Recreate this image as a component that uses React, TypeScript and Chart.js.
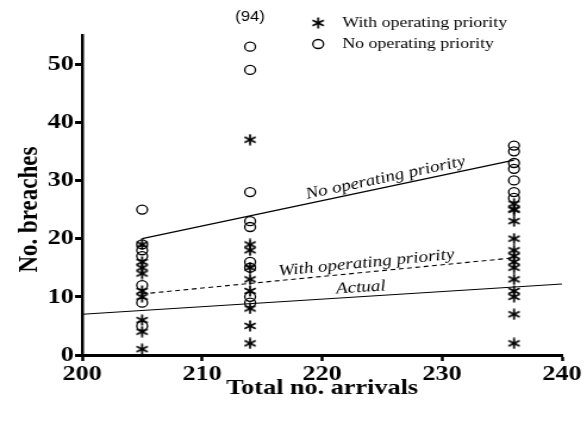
import React, { useEffect, useRef } from "react";
import { Chart, registerables } from "chart.js";

Chart.register(...registerables);

// ---- data ----
const arrivals = [205, 214, 236];
const withPriority205 = [19, 16, 15, 14, 11, 10, 6, 4, 1];
const withPriority214 = [37, 19, 18, 15, 13, 11, 8, 5, 2];
const withPriority236 = [26, 25, 25, 23, 20, 18, 17, 16, 15, 13, 11, 10, 7, 2];
const noPriority205 = [25, 19, 18, 17, 12, 9, 5];
const noPriority214 = [53, 49, 28, 23, 22, 16, 15, 10, 9];
const noPriority236 = [36, 35, 33, 32, 30, 28, 27];

const noLineX = [205, 236];
const noLineY = [20, 33.5];
const withLineX = [205, 236];
const withLineY = [10.5, 16.7];
const actualLineX = [200, 240];
const actualLineY = [7, 12.2];

const xTicks = [200, 210, 220, 230, 240];
const yTicks = [0, 10, 20, 30, 40, 50];
const xRange = [200, 240];
const yRange = [0, 55];

const offscaleLabel = "(94)";
const offscaleX = 214;

const seriesNames = ["With operating priority", "No operating priority"];
const lineLabels = ["No operating priority", "With operating priority", "Actual"];
const lineLabelAt = [225.5, 223.8, 223.3];
const xTitle = "Total no. arrivals";
const yTitle = "No. breaches";

const SERIF = "'Liberation Serif', 'Times New Roman', serif";
const W = 587;
const H = 426;
const STRETCH = 1.19; // figure is horizontally stretched
const CW = Math.round(W / STRETCH);

function pts(x: number, ys: number[]) {
  return ys.map((y) => ({ x, y }));
}
function seg(xs: number[], ys: number[]) {
  return xs.map((x, i) => ({ x, y: ys[i] }));
}

function makeStar(size: number, lw: number) {
  const c = document.createElement("canvas");
  c.width = size;
  c.height = size;
  const ctx = c.getContext("2d")!;
  ctx.strokeStyle = "#000";
  ctx.lineWidth = lw;
  const cx = size / 2;
  const cy = size / 2;
  const r = size / 2 - 0.6;
  for (const a of [90, 30, 150]) {
    const rad = (a * Math.PI) / 180;
    ctx.beginPath();
    ctx.moveTo(cx + r * Math.cos(rad), cy - r * Math.sin(rad));
    ctx.lineTo(cx - r * Math.cos(rad), cy + r * Math.sin(rad));
    ctx.stroke();
  }
  return c;
}

export default function App() {
  const ref = useRef<HTMLCanvasElement | null>(null);

  useEffect(() => {
    const canvas = ref.current!;
    const star = makeStar(12, 1.7);

    const annotations = {
      id: "annotations",
      afterDatasetsDraw(chart: any) {
        const ctx = chart.ctx;
        const xs = chart.scales.x;
        const ys = chart.scales.y;
        ctx.save();
        ctx.fillStyle = "#000";
        // line labels
        const lines = [
          [noLineX, noLineY],
          [withLineX, withLineY],
          [actualLineX, actualLineY],
        ];
        ctx.font = `italic 16px ${SERIF}`;
        ctx.textAlign = "center";
        ctx.textBaseline = "bottom";
        lines.forEach(([lx, ly], i) => {
          const x0 = xs.getPixelForValue(lx[0]);
          const y0 = ys.getPixelForValue(ly[0]);
          const x1 = xs.getPixelForValue(lx[1]);
          const y1 = ys.getPixelForValue(ly[1]);
          const ang = Math.atan2(y1 - y0, x1 - x0);
          const v = lineLabelAt[i];
          const t = (v - lx[0]) / (lx[1] - lx[0]);
          const yv = ly[0] + t * (ly[1] - ly[0]);
          const px = xs.getPixelForValue(v);
          const py = ys.getPixelForValue(yv);
          ctx.save();
          ctx.translate(px, py);
          ctx.rotate(ang);
          ctx.fillText(lineLabels[i], 0, -1);
          ctx.restore();
        });
        // off-scale label
        ctx.font = `14px 'Liberation Sans', Arial, sans-serif`;
        ctx.textBaseline = "middle";
        ctx.fillText(offscaleLabel, xs.getPixelForValue(offscaleX), 17);
        // legend
        ctx.font = `15px ${SERIF}`;
        ctx.textAlign = "left";
        const lx = 318 / STRETCH;
        const tx = 342 / STRETCH;
        ctx.drawImage(star, lx - 6, 23 - 6);
        ctx.fillText(seriesNames[0], tx, 23);
        ctx.beginPath();
        ctx.lineWidth = 1.3;
        ctx.strokeStyle = "#000";
        ctx.arc(lx, 44, 4.5, 0, Math.PI * 2);
        ctx.stroke();
        ctx.fillText(seriesNames[1], tx, 44);
        // y title centred on tick range
        const ymid = ys.getPixelForValue((yTicks[0] + yTicks[yTicks.length - 1]) / 2);
        ctx.save();
        ctx.translate(30 / STRETCH, ymid);
        ctx.rotate(-Math.PI / 2);
        ctx.font = `bold 23px ${SERIF}`;
        ctx.textAlign = "center";
        ctx.textBaseline = "middle";
        ctx.fillText(yTitle, 0, 0);
        ctx.restore();
        ctx.restore();
      },
    };

    const chart = new Chart(canvas, {
      type: "scatter",
      data: {
        datasets: [
          {
            type: "line",
            label: "No operating priority fit",
            data: seg(noLineX, noLineY),
            borderColor: "#000",
            borderWidth: 1.2,
            pointRadius: 0,
          },
          {
            type: "line",
            label: "With operating priority fit",
            data: seg(withLineX, withLineY),
            borderColor: "#000",
            borderWidth: 1.1,
            borderDash: [4, 3],
            pointRadius: 0,
          },
          {
            type: "line",
            label: "Actual",
            data: seg(actualLineX, actualLineY),
            borderColor: "#000",
            borderWidth: 1.2,
            pointRadius: 0,
          },
          {
            type: "scatter",
            label: seriesNames[0],
            data: [
              ...pts(arrivals[0], withPriority205),
              ...pts(arrivals[1], withPriority214),
              ...pts(arrivals[2], withPriority236),
            ],
            pointStyle: star as any,
            pointRadius: 6,
          },
          {
            type: "scatter",
            label: seriesNames[1],
            data: [
              ...pts(arrivals[0], noPriority205),
              ...pts(arrivals[1], noPriority214),
              ...pts(arrivals[2], noPriority236),
            ],
            pointStyle: "circle",
            pointRadius: 4.5,
            borderColor: "#000",
            borderWidth: 1.3,
            backgroundColor: "rgba(0,0,0,0)",
          },
        ] as any,
      },
      plugins: [annotations],
      options: {
        animation: false,
        responsive: false,
        maintainAspectRatio: false,
        layout: { padding: { top: 35, right: CW - Math.round(562 / STRETCH), left: 0, bottom: 0 } },
        plugins: {
          legend: { display: false },
          tooltip: { enabled: false },
        },
        scales: {
          x: {
            type: "linear",
            min: xRange[0],
            max: xRange[1],
            afterBuildTicks: (s: any) => {
              s.ticks = xTicks.map((v) => ({ value: v }));
            },
            afterFit: (s: any) => {
              s.height = H - 355;
            },
            grid: {
              display: true,
              drawOnChartArea: false,
              drawTicks: true,
              tickLength: 6,
              tickWidth: 2.5,
              tickColor: "#000",
            },
            border: { display: true, width: 3, color: "#000" },
            ticks: {
              color: "#000",
              padding: 2,
              maxRotation: 0,
              font: { family: SERIF, size: 22, weight: "bold", lineHeight: 1 },
            },
            title: {
              display: true,
              text: xTitle,
              color: "#000",
              font: { family: SERIF, size: 22, weight: "bold", lineHeight: 1.2 },
              padding: { top: 0, bottom: 24 },
            },
          },
          y: {
            type: "linear",
            min: yRange[0],
            max: yRange[1],
            afterBuildTicks: (s: any) => {
              s.ticks = yTicks.map((v) => ({ value: v }));
            },
            afterFit: (s: any) => {
              s.width = Math.round(82 / STRETCH);
            },
            grid: {
              display: true,
              drawOnChartArea: false,
              drawTicks: true,
              tickLength: 6,
              tickWidth: 3,
              tickColor: "#000",
            },
            border: { display: true, width: 2.5, color: "#000" },
            ticks: {
              color: "#000",
              padding: 1,
              font: { family: SERIF, size: 22, weight: "bold", lineHeight: 1 },
            },
          },
        },
      } as any,
    });
    return () => chart.destroy();
  }, []);

  return (
    <div style={{ position: "absolute", left: 0, top: 0, width: W, height: H, background: "#fff", overflow: "hidden" }}>
      <canvas
        ref={ref}
        width={CW}
        height={H}
        style={{
          width: CW,
          height: H,
          display: "block",
          transform: `scaleX(${W / CW})`,
          transformOrigin: "0 0",
        }}
      />
    </div>
  );
}
